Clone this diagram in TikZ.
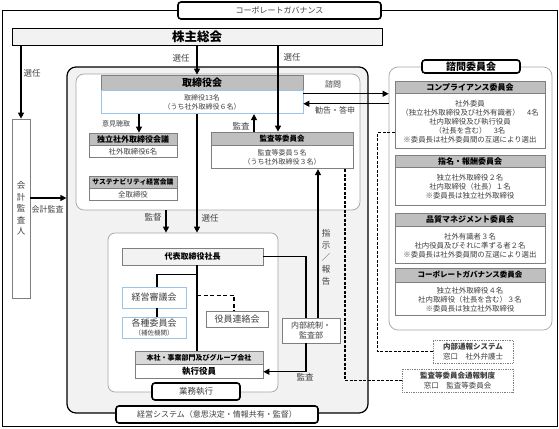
\documentclass[tikz,border=0pt]{standalone}
\usepackage{fontspec}
\setmainfont{Noto Sans CJK JP}
\usetikzlibrary{arrows.meta,positioning,calc}
\definecolor{hdgray}{RGB}{191,191,191}
\definecolor{hdlight}{RGB}{217,217,217}
\definecolor{bggray}{RGB}{242,242,242}
\definecolor{edgegray}{RGB}{127,127,127}
\definecolor{framegray}{RGB}{166,166,166}
\definecolor{edgeblue}{RGB}{157,195,230}
\definecolor{txtgray}{RGB}{64,64,64}
\tikzset{every picture/.style={line width=0.75pt}}
\tikzset{
    lbl/.style={text=txtgray, inner sep=0pt, font=\fontsize{8}{9}\selectfont},
    titlebox/.style={draw, line width=1.6pt, rounded corners=3pt, fill=white, inner sep=0pt, text=txtgray, font=\fontsize{8}{9}\selectfont},
    headbox/.style={draw=edgegray, fill=hdgray, inner sep=0pt, font=\bfseries\fontsize{8}{9}\selectfont},
    bodybox/.style={draw=edgegray, fill=white, inner sep=0pt, align=center, text=txtgray, font=\fontsize{7.4}{9}\selectfont},
    bluebox/.style={draw=edgeblue, fill=white, inner sep=0pt, align=center, text=txtgray, font=\fontsize{9}{10}\selectfont},
    areabox/.style={draw=framegray, fill=white, rounded corners=8pt, inner sep=0pt},
    notebox/.style={draw=edgegray, densely dotted, fill=white, inner sep=0pt, align=center, text=txtgray, font=\fontsize{7.5}{9.5}\selectfont},
    arr/.style={-{Triangle[length=6pt,width=6pt]}, line width=1.2pt},
    link/.style={line width=1.2pt},
    dline/.style={line width=1.2pt, dash pattern=on 3pt off 1.5pt},
}
\begin{document}
\begin{tikzpicture}[x=1pt, y=-1pt]
    \useasboundingbox (0,0) rectangle (559,428);
    % 外框
    \draw[line width=0.8pt] (2,10) rectangle (557,426);
    \node[titlebox, minimum width=203pt, minimum height=17pt] (gov) at (279.5,10.5) {コーポレートガバナンス};
    \node[draw, fill=bggray, minimum width=370pt, minimum height=17pt, inner sep=0pt, font=\bfseries\fontsize{12.5}{13}\selectfont] (gm) at (197,36.5) {株主総会};

    % 经营体系
    \node[draw, line width=1.2pt, fill=bggray, rounded corners=9pt, minimum width=301pt, minimum height=346pt] (sys) at (217.5,240) {};
    \node[areabox, minimum width=284pt, minimum height=136pt] (bd) at (218,142) {};
    \node[titlebox, minimum width=202pt, minimum height=17pt] (sys-title) at (217,414.5) {経営システム（意思決定・情報共有・監督）};

    % 董事会
    \node[headbox, minimum width=202pt, minimum height=15pt, font=\bfseries\fontsize{10}{11}\selectfont] (board-h) at (202,82.5) {取締役会};
    \node[bluebox, minimum width=202pt, minimum height=23pt, anchor=north, font=\fontsize{7}{9}\selectfont] (board-b) at (board-h.south) {取締役13名\\（うち社外取締役６名）};
    \node[headbox, minimum width=88pt, minimum height=12pt] (ind-h) at (133,139) {独立社外取締役会議};
    \node[bodybox, minimum width=88pt, minimum height=12pt, anchor=north] (ind-b) at (ind-h.south) {社外取締役6名};
    \node[headbox, minimum width=88pt, minimum height=12pt, font=\bfseries\fontsize{6.8}{8}\selectfont] (sus-h) at (133,182) {サステナビリティ経営会議};
    \node[bodybox, minimum width=88pt, minimum height=12pt, anchor=north] (sus-b) at (sus-h.south) {全取締役};
    \node[headbox, minimum width=142pt, minimum height=13pt, font=\bfseries\fontsize{7.5}{9}\selectfont] (ac-h) at (282,138.5) {監査等委員会};
    \node[bodybox, minimum width=142pt, minimum height=23pt, anchor=north, font=\fontsize{7}{9}\selectfont] (ac-b) at (ac-h.south) {監査等委員５名\\（うち社外取締役３名）};

    % 咨询委员会
    \node[areabox, rounded corners=9pt, minimum width=163pt, minimum height=263pt] (adv) at (470.5,198.5) {};
    \node[titlebox, text=black, minimum width=98pt, minimum height=13pt, font=\bfseries\fontsize{10}{11}\selectfont] (adv-title) at (471,66.5) {諮問委員会};
    \node[headbox, minimum width=150pt, minimum height=12pt] (comp-h) at (470,87) {コンプライアンス委員会};
    \node[bodybox, minimum width=150pt, minimum height=55pt, anchor=north] (comp-b) at (comp-h.south) {社外委員\\（独立社外取締役及び社外有識者）　4名\\社内取締役及び執行役員\\（社長を含む）　3名\\※委員長は社外委員間の互選により選出};
    \node[headbox, minimum width=150pt, minimum height=12pt] (nom-h) at (470,161) {指名・報酬委員会};
    \node[bodybox, minimum width=150pt, minimum height=38pt, anchor=north] (nom-b) at (nom-h.south) {独立社外取締役２名\\社内取締役（社長）１名\\※委員長は独立社外取締役};
    \node[headbox, minimum width=150pt, minimum height=13pt] (qual-h) at (470,219.5) {品質マネジメント委員会};
    \node[bodybox, minimum width=150pt, minimum height=37pt, anchor=north] (qual-b) at (qual-h.south) {社外有識者３名\\社内役員及びそれに準ずる者２名\\※委員長は社外委員間の互選により選出};
    \node[headbox, minimum width=150pt, minimum height=14pt, font=\bfseries\fontsize{7.5}{9}\selectfont] (cgc-h) at (470,275) {コーポレートガバナンス委員会};
    \node[bodybox, minimum width=150pt, minimum height=33pt, anchor=north] (cgc-b) at (cgc-h.south) {独立社外取締役４名\\社内取締役（社長を含む）３名\\※委員長は独立社外取締役};

    % 业务执行
    \node[areabox, rounded corners=7pt, minimum width=170pt, minimum height=159pt] (exe) at (193,312.5) {};
    \node[titlebox, minimum width=88pt, minimum height=17pt, font=\fontsize{8.5}{9}\selectfont] (exe-title) at (196,391.5) {業務執行};
    \node[draw=edgegray, fill=bggray, minimum width=141pt, minimum height=17pt, inner sep=0pt, font=\bfseries\fontsize{8}{9}\selectfont] (pres) at (192.5,256.5) {代表取締役社長};
    \node[bluebox, minimum width=64pt, minimum height=21pt] (council) at (154,297.5) {経営審議会};
    \node[bluebox, minimum width=64pt, minimum height=21pt] (cmte) at (154,327.5) {各種委員会\\[-1pt]{\fontsize{6.5}{7}\selectfont （補佐機関）}};
    \node[bodybox, minimum width=62pt, minimum height=16pt, font=\fontsize{9}{10}\selectfont] (liaison) at (237,319) {役員連絡会};
    \node[headbox, fill=hdlight, minimum width=128pt, minimum height=13pt, font=\bfseries\fontsize{7}{8}\selectfont] (exec-h) at (199,357.5) {本社・事業部門及びグループ会社};
    \node[bodybox, text=black, minimum width=128pt, minimum height=14pt, anchor=north, font=\bfseries\fontsize{8.5}{9}\selectfont] (exec-b) at (exec-h.south) {執行役員};
    \node[bodybox, minimum width=58pt, minimum height=25pt, font=\fontsize{8}{10}\selectfont] (ia) at (311,330.5) {内部統制・\\監査部};

    % 会计审计人 与 通报制度
    \node[bodybox, minimum width=18pt, minimum height=179pt, font=\fontsize{8.5}{11.5}\selectfont] (aud) at (21,208.5) {会\\計\\監\\査\\人};
    \node[notebox, minimum width=80pt, minimum height=23pt] (ws) at (473,351.5) {\textbf{内部通報システム}\\窓口　社外弁護士};
    \node[notebox, minimum width=111pt, minimum height=23pt] (acw) at (457.5,380.5) {\textbf{監査等委員会通報制度}\\窓口　監査等委員会};

    % 连线
    \draw[arr] (aud.north |- gm.south) -- (aud.north);
    \draw[arr] (gm.south) -- (gm.south |- board-h.north);
    \draw[arr] ([xshift=-4pt]ac-h.north |- gm.south) -- ([xshift=-4pt]ac-h.north);
    \draw[arr] ([xshift=-28pt]ac-h.north) -- ([xshift=-28pt]ac-h.north |- board-b.south);
    \draw[arr] ([xshift=6pt]ind-h.north |- board-b.south) -- ([xshift=6pt]ind-h.north);
    \draw[arr] ([yshift=8.5pt]board-b.east) -- ([yshift=8.5pt]board-b.east -| adv.west);
    \draw[arr] ([yshift=-1.5pt]board-b.east -| adv.west) -- ([yshift=-1.5pt]board-b.east);
    \draw[arr] ([yshift=10.5pt]aud.east) -- ([yshift=10.5pt]aud.east -| sys.west);
    \draw[arr] ([xshift=-52pt]bd.south) -- ([xshift=-52pt]bd.south |- exe.north);
    \draw[arr] (gm.south |- board-b.south) -- (gm.south |- exe.north);
    \draw[link] ([xshift=4.5pt]pres.south) -- ([xshift=4.5pt]pres.south |- exec-h.north);
    \draw[link] ([xshift=3pt]council.north) |- ([xshift=4.5pt,yshift=-9pt]pres.south);
    \draw[link] ([xshift=3pt]council.south) -- ([xshift=3pt]cmte.north);
    \draw[link, dash pattern=on 4pt off 2.5pt] ([xshift=4.5pt,yshift=-30pt]pres.south) -| ([xshift=-3pt]liaison.north);
    \draw[link] (pres.east) -| ([xshift=-5pt]ia.north);
    \draw[arr] ([xshift=-5pt]ia.south) |- (exec-b.east);
    \draw[arr] ([xshift=7pt]ia.north) -- ([xshift=7pt]ia.north |- ac-b.south);
    \draw[dline] ([xshift=63pt]ac-b.south) |- (acw.west);
    \draw[dline] ([yshift=-11.5pt]comp-b.west) -- ++(-17,0) |- (ws.west);

    % 标注
    \node[lbl, font=\fontsize{8.5}{9}\selectfont] (t-elect1) at (32,73) {選任};
    \node[lbl, font=\fontsize{8.5}{9}\selectfont] (t-elect2) at (181,58) {選任};
    \node[lbl, font=\fontsize{8.5}{9}\selectfont] (t-elect3) at (292,57) {選任};
    \node[lbl, font=\fontsize{7}{8}\selectfont] (t-hear) at (116,124) {意見聴取};
    \node[lbl, font=\fontsize{8.5}{9}\selectfont] (t-audit1) at (241,126) {監査};
    \node[lbl] (t-consult) at (333,84) {諮問};
    \node[lbl] (t-advice) at (335,110) {勧告・答申};
    \node[lbl] (t-acct) at (47.5,209) {会計監査};
    \node[lbl, font=\fontsize{8.5}{9}\selectfont] (t-super) at (153,217) {監督};
    \node[lbl, font=\fontsize{8.5}{9}\selectfont] (t-elect4) at (210,218) {選任};
    \node[lbl, align=center, font=\fontsize{8.5}{12}\selectfont] (t-order) at (326,257) {指\\示\\／\\報\\告};
    \node[lbl, font=\fontsize{8.5}{9}\selectfont] (t-audit2) at (305,377) {監査};
\end{tikzpicture}
\end{document}
